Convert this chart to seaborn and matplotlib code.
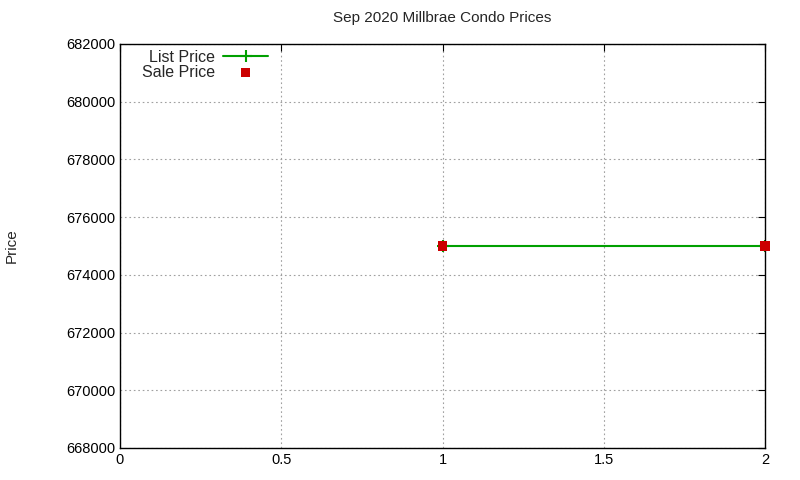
import matplotlib
matplotlib.use("Agg")
import matplotlib.pyplot as plt
import seaborn as sns
import pandas as pd

list_x = [1, 2]
list_price = [675000, 675000]
sale_x = [1, 2]
sale_price = [675000, 675000]
title = "Sep 2020 Millbrae Condo Prices"

sns.set_style("white")
plt.rcParams['font.family'] = ['Liberation Sans', 'DejaVu Sans']

fig = plt.figure(figsize=(8, 4.8), dpi=100)
ax = fig.add_axes([120/800, 1-448/480, (765-120)/800, (448-44)/480])

df_list = pd.DataFrame({"x": list_x, "y": list_price})
df_sale = pd.DataFrame({"x": sale_x, "y": sale_price})
sns.lineplot(data=df_list, x="x", y="y", ax=ax, color="#00a000", lw=1.5,
             marker="+", markersize=8, mew=1.5, mec="#00a000", label="List Price")
sns.scatterplot(data=df_sale, x="x", y="y", ax=ax, color="#cc0000", marker="s",
                s=45, edgecolor="none", label="Sale Price", zorder=5, clip_on=False)

ax.set_xlim(0, 2)
ax.set_ylim(668000, 682000)
ax.set_xticks([0, 0.5, 1, 1.5, 2])
ax.set_xticklabels(["0", "0.5", "1", "1.5", "2"])
ax.set_yticks(range(668000, 682001, 2000))
ax.set_yticklabels([str(v) for v in range(668000, 682001, 2000)])
ax.grid(True, color="#a0a0a0", linestyle=(0, (1.5, 2.5)), lw=0.8)
ax.tick_params(direction="in", top=True, right=True, length=5, labelsize=10.5, colors="black")
for s in ax.spines.values():
    s.set_color("black"); s.set_linewidth(1)
ax.set_xlabel("")
ax.set_ylabel("Price", fontsize=11, labelpad=34)
ax.set_title(title, fontsize=11, pad=16)

leg = ax.legend(loc="upper right", frameon=False, markerfirst=False, fontsize=11.5,
                bbox_to_anchor=(268/800, 1-50/480), bbox_transform=fig.transFigure,
                handlelength=2.8, labelspacing=0.0, borderpad=0, borderaxespad=0,
                handletextpad=0.5)

fig.savefig("out.png", dpi=100)
